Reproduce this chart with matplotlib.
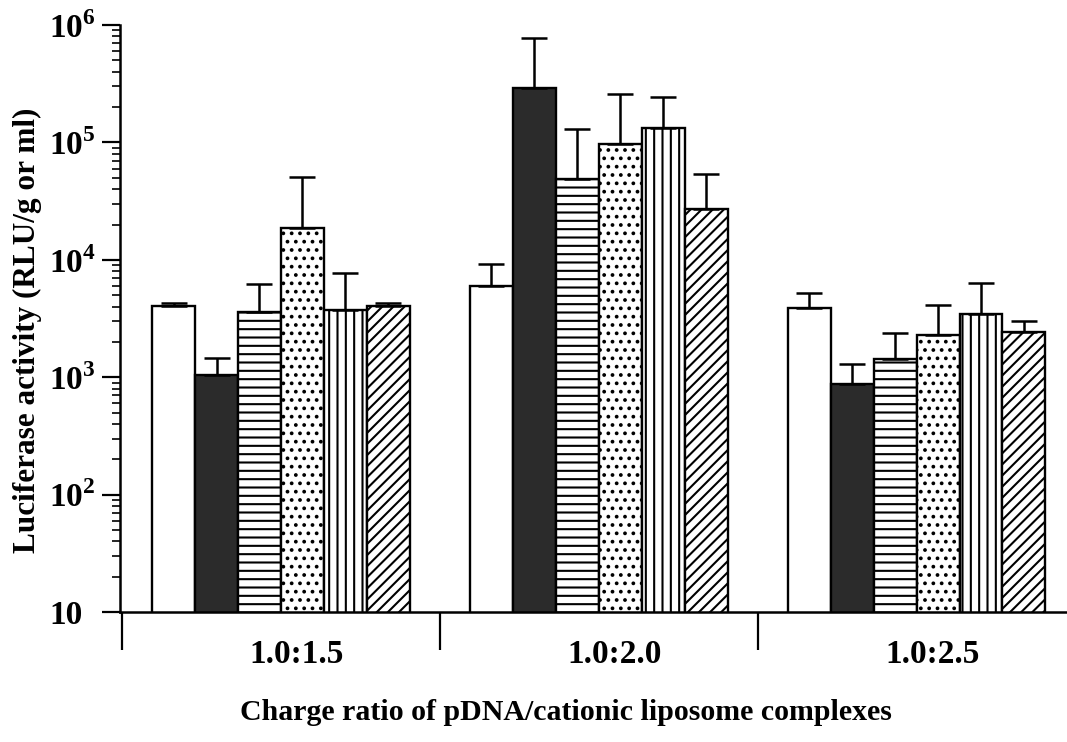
import matplotlib
matplotlib.use("Agg")
import matplotlib.pyplot as plt
import numpy as np

# charge ratio groups
groups = ["1.0:1.5", "1.0:2.0", "1.0:2.5"]

# six formulations (left to right in each group), mean and upper SD
white_mean = [4070, 6010, 3910]
white_err = [200, 3200, 1340]
dark_mean = [1050, 289000, 870]
dark_err = [410, 490000, 425]
hline_mean = [3590, 48500, 1430]
hline_err = [2680, 81500, 940]
dots_mean = [18800, 96400, 2280]
dots_err = [31900, 163600, 1810]
vline_mean = [3730, 132000, 3440]
vline_err = [4000, 110000, 2900]
diag_mean = [4070, 26900, 2440]
diag_err = [230, 26600, 590]

series = [
    (white_mean, white_err, "white", ""),
    (dark_mean, dark_err, "#2b2b2b", ""),
    (hline_mean, hline_err, "white", "--"),
    (dots_mean, dots_err, "white", ".."),
    (vline_mean, vline_err, "white", "||"),
    (diag_mean, diag_err, "white", "///"),
]

plt.rcParams["font.family"] = ["Liberation Serif", "DejaVu Serif"]
plt.rcParams["font.weight"] = "bold"
plt.rcParams["mathtext.fontset"] = "custom"
plt.rcParams["mathtext.rm"] = "Liberation Serif:bold"
plt.rcParams["mathtext.bf"] = "Liberation Serif:bold"
plt.rcParams["hatch.linewidth"] = 1.5

fig = plt.figure(figsize=(10.67, 7.42), dpi=100)
ax = fig.add_axes([0.1125, 0.1752, 0.8866, 0.791])

x = np.arange(len(groups))
w = 0.135
for i, (m, e, fc, h) in enumerate(series):
    xi = x + (i - 2.5) * w
    ax.bar(xi, m, width=w, color=fc, edgecolor="black", linewidth=1.7,
           hatch=h, zorder=2)
    ax.errorbar(xi, m, yerr=[np.zeros(len(m)), e], fmt="none", ecolor="black",
                elinewidth=1.8, capsize=9.5, capthick=1.8, zorder=3)

ax.set_yscale("log")
ax.set_ylim(10, 1e6)
ax.set_xlim(-0.506, 2.47)

ax.set_yticks([10, 1e2, 1e3, 1e4, 1e5, 1e6])
ax.set_yticklabels(["10", r"$10^{2}$", r"$10^{3}$", r"$10^{4}$",
                    r"$10^{5}$", r"$10^{6}$"], fontsize=24, ha="left")
ax.tick_params(axis="y", which="major", direction="out", length=13, width=1.6, pad=38)
ax.tick_params(axis="y", which="minor", direction="out", length=6, width=1.2)

ax.set_xticks([-0.5, 0.5, 1.5])
ax.set_xticklabels(["", "", ""])
ax.tick_params(axis="x", which="major", direction="out", length=27, width=1.6)
for xi, g in zip(x, groups):
    ax.text(xi + 0.05, -0.072, g, transform=ax.get_xaxis_transform(), ha="center",
            va="center", fontsize=24, fontweight="bold")

ax.spines["top"].set_visible(False)
ax.spines["right"].set_visible(False)
ax.spines["left"].set_linewidth(1.8)
ax.spines["bottom"].set_linewidth(1.8)

ax.set_ylabel("Luciferase activity (RLU/g or ml)", fontsize=22.5, fontweight="bold")
ax.yaxis.set_label_coords(-0.082, 0.48)
fig.text(0.53, 0.04, "Charge ratio of pDNA/cationic liposome complexes",
         ha="center", va="center", fontsize=21.5, fontweight="bold")

fig.savefig("out.png", dpi=100)
